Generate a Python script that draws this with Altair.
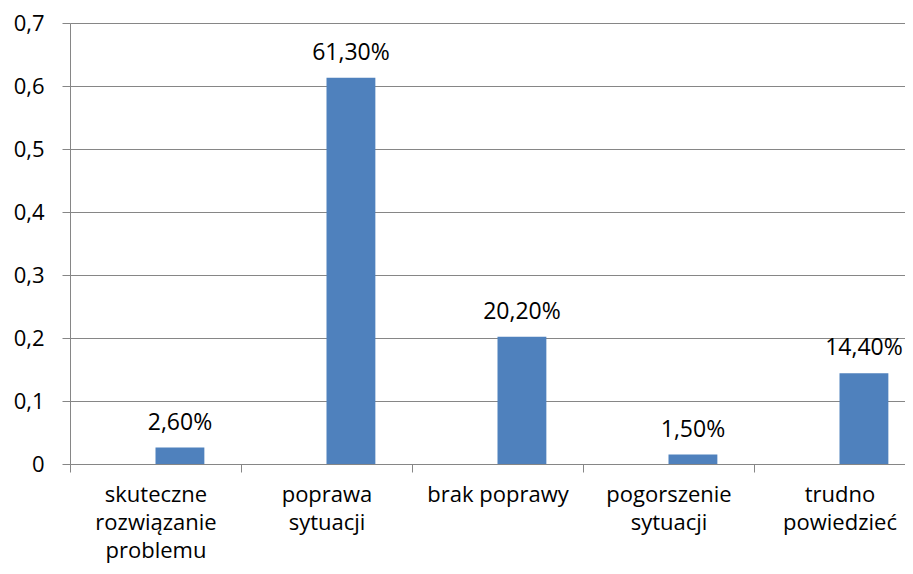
import altair as alt
import pandas as pd

categories = [
    "skuteczne\nrozwiązanie\nproblemu",
    "poprawa\nsytuacji",
    "brak poprawy",
    "pogorszenie\nsytuacji",
    "trudno\npowiedzieć",
]
values = [0.026, 0.613, 0.202, 0.015, 0.144]
series = ["Seria0", "Seria1"]
y_ticks = [0, 0.1, 0.2, 0.3, 0.4, 0.5, 0.6, 0.7]

df = pd.DataFrame({"kategoria": categories, "wartosc": values, "seria": series[1]})

FONT = "Open Sans"
GRAY = "#868686"
FS = 23

x = alt.X(
    "kategoria:N",
    sort=categories,
    scale=alt.Scale(domain=categories, range=[0, 855], paddingInner=0, paddingOuter=0),
    axis=alt.Axis(
        title=None, labelAngle=0, labelExpr="split(datum.label, '\\n')",
        labelFont=FONT, labelFontSize=22, labelColor="black", labelPadding=12,
        labelBaseline="top", labelLineHeight=28, tickBand="extent", tickSize=8,
        tickColor=GRAY, domainColor=GRAY, grid=False, labelLimit=0,
    ),
)
xo = alt.XOffset("seria:N", scale=alt.Scale(domain=series, paddingInner=0, paddingOuter=0.75))
y = alt.Y(
    "wartosc:Q",
    scale=alt.Scale(domain=[0, 0.7], nice=False, zero=True),
    axis=alt.Axis(
        title=None, values=y_ticks,
        labelExpr="replace(format(datum.value, '.1~f'), '.', ',')",
        labelFont=FONT, labelFontSize=22, labelColor="black", labelPadding=18,
        tickSize=8, tickColor=GRAY, domainColor=GRAY, gridColor=GRAY, gridWidth=1,
    ),
)

base = alt.Chart(df).transform_calculate(
    etykieta="replace(format(datum.wartosc, '.2%'), '.', ',')"
)
bars = base.mark_bar(color="#4F81BD").encode(x=x, xOffset=xo, y=y)
labels = base.mark_text(
    dy=-18, baseline="alphabetic", align="center", font=FONT, fontSize=FS, color="black"
).encode(x=x, xOffset=xo, y=y, text="etykieta:N")

chart = (
    alt.layer(bars, labels)
    .properties(
        width=835, height=441,
        autosize=alt.AutoSizeParams(type="none"),
        padding={"left": 62, "top": 15, "right": 0, "bottom": 102},
    )
    .configure_view(stroke=None)
    .configure(background="white")
)

chart.save("out.html", embed_options={"renderer": "svg", "actions": False})
